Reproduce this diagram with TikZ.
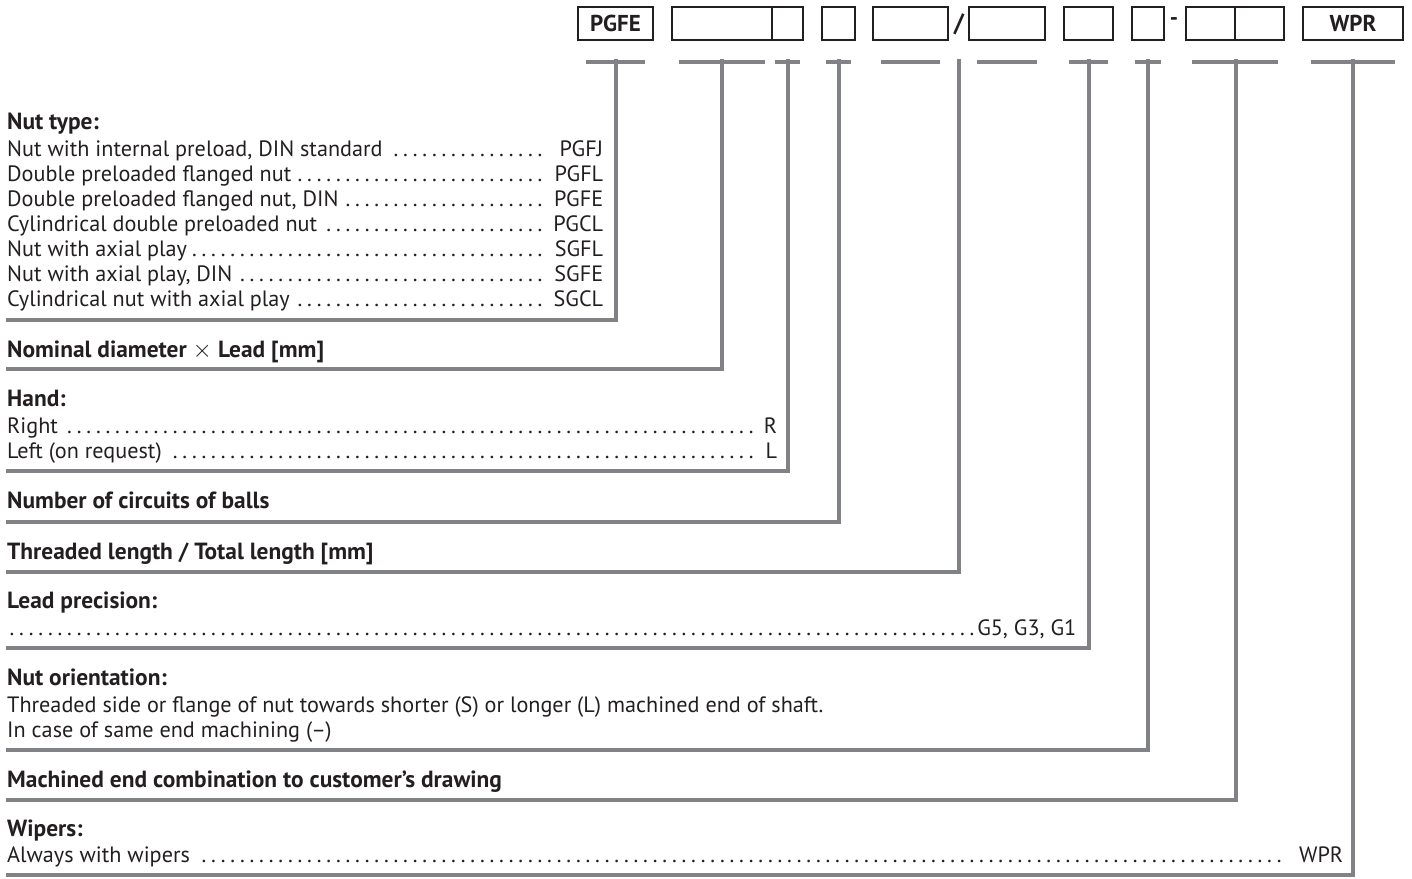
\documentclass[tikz,border=0pt]{standalone}
\usepackage{fontspec}
\setmainfont{PT Sans}
\definecolor{inkdark}{HTML}{231F20}
\definecolor{leadgrey}{HTML}{808285}
\newcommand{\dotrow}[3]{\hbox to #1pt{#2\leaders\hbox to 9.6pt{\hss.\hss}\hfill#3}}

\begin{document}
\begin{tikzpicture}[x=1pt, y=-1pt, text=inkdark, font=\fontsize{22.2}{25}\selectfont,
  codebox/.style={draw=inkdark, line width=2pt, minimum height=33pt, inner sep=0pt,
    font=\fontsize{23}{23}\selectfont\bfseries},
  leadline/.style={draw=leadgrey, line width=4pt},
  head/.style={anchor=base west, inner sep=0pt, font=\fontsize{23.4}{25}\selectfont\bfseries},
  body/.style={anchor=base west, inner sep=0pt}]
  \useasboundingbox (0,0) rectangle (1412,878);

  \foreach \nm/\xa/\xb/\txt in {type/578/653/PGFE, size/672/772/, hand/772/803/, circ/822/855/,
      thrd/873/948/, totl/969/1045/, prec/1064/1113/, orie/1132/1164/,
      mcha/1186/1235/, mchb/1235/1284/, wipe/1303/1403/WPR}
    \node[codebox, minimum width={\xb-\xa}] (\nm) at ({(\xa+\xb)/2},23.5) {\txt};
  \node[font=\fontsize{25}{25}\selectfont\bfseries] (slash) at (959,24) {/};
  \node[font=\fontsize{23}{23}\selectfont\bfseries] (dash) at (1174,22) {-};

  \foreach \nm/\ins in {type/9, size/8, hand/4, circ/5, thrd/9, totl/9, prec/6, orie/4, wipe/9}
    \draw[leadline] ([xshift=\ins pt, yshift=-21pt]\nm.south west)
      -- ([xshift=-\ins pt, yshift=-21pt]\nm.south east);
  \draw[leadline] ([xshift=7pt, yshift=-21pt]mcha.south west)
    -- ([xshift=-7pt, yshift=-21pt]mchb.south east);

  \coordinate (utop) at (0,59);
  \foreach \src/\y [count=\k] in {type/320, size/369, hand/471, circ/522, slash/572,
      prec/648, orie/750, mcha.east/800, wipe/875}{%
    \coordinate (lineend\k) at (6,\y);
    \draw[leadline] (\src |- utop) |- (lineend\k);}

  \node[head] (typehd) at (7,129) {Nut type:};
  \foreach \i/\lab/\code in {0/{Nut with internal preload, DIN standard}/PGFJ,
      1/Double preloaded flanged nut/PGFL, 2/{Double preloaded flanged nut, DIN}/PGFE,
      3/Cylindrical double preloaded nut/PGCL, 4/Nut with axial play/SGFL,
      5/{Nut with axial play, DIN}/SGFE, 6/Cylindrical nut with axial play/SGCL}
    \node[body] (typerow\i) at (7,156+25*\i) {\dotrow{596}{\lab}{\ \code}};

  \node[head] (sizehd) at (7,357) {Nominal diameter {\mdseries$\times$} Lead [mm]};
  \node[head] (handhd) at (7,406) {Hand:};
  \node[body] (handr) at (7,433) {\dotrow{770}{Right}{\ R}};
  \node[body] (handl) at (7,458) {\dotrow{770}{Left (on request)}{\ L}};
  \node[head] (circhd) at (7,508) {Number of circuits of balls};
  \node[head] (lenhd) at (7,559) {Threaded length / Total length [mm]};
  \node[head] (prechd) at (7,608) {Lead precision:};
  \node[body] (precrow) at (7,635) {\dotrow{1069}{}{G5, G3, G1}};
  \node[head] (oriehd) at (7,685) {Nut orientation:};
  \node[body] (orierow) at (7,712)
    {Threaded side or flange of nut towards shorter (S) or longer (L) machined end of shaft.};
  \node[body] (orierowb) at (7,737) {In case of same end machining (--)};
  \node[head] (mchhd) at (7,787) {Machined end combination to customer's drawing};
  \node[head] (wipehd) at (7,836) {Wipers:};
  \node[body] (wiperow) at (7,862) {\dotrow{1336}{Always with wipers}{\ WPR}};
\end{tikzpicture}
\end{document}
